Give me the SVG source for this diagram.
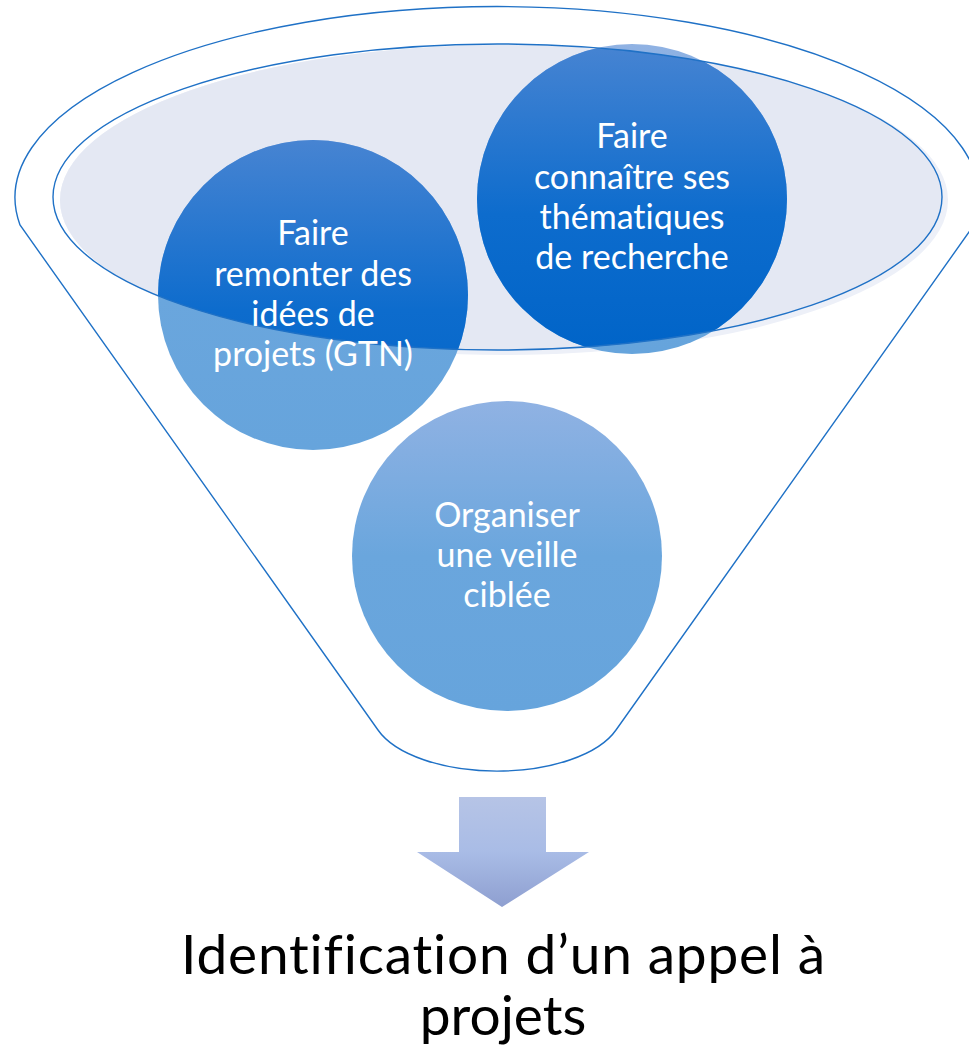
<svg xmlns="http://www.w3.org/2000/svg" width="969" height="1051" viewBox="0 0 969 1051">
<style>
.outline{fill:none;stroke:#1F71C6;stroke-width:1.4}
.ctext{font-family:Lato,"Open Sans","Liberation Sans",sans-serif;font-size:34px;fill:#FFFFFF;text-anchor:middle;font-variant-ligatures:none}
.mtext{font-family:Lato,"Open Sans","Liberation Sans",sans-serif;font-size:55px;fill:#000000;text-anchor:middle;font-variant-ligatures:none}
</style>
<defs>
<linearGradient id="gLight" x1="0" y1="0" x2="0" y2="1">
<stop offset="0" stop-color="#90B2E3"/>
<stop offset="0.5" stop-color="#6AA6DD"/>
<stop offset="1" stop-color="#66A4DC"/>
</linearGradient>
<linearGradient id="gDark" x1="0" y1="0" x2="0" y2="1">
<stop offset="0" stop-color="#4784D2"/>
<stop offset="0.55" stop-color="#0D6CCD"/>
<stop offset="1" stop-color="#0064C8"/>
</linearGradient>
<linearGradient id="gArrow" x1="0" y1="0" x2="0" y2="1">
<stop offset="0" stop-color="#B6C4E6"/>
<stop offset="0.5" stop-color="#A9BCE6"/>
<stop offset="1" stop-color="#8E9FD0"/>
</linearGradient>
<clipPath id="lidClip">
<ellipse cx="497.5" cy="197" rx="444.5" ry="153"/>
</clipPath>
</defs>

<g id="funnel">
<path class="outline" d="M20,225 A482,191 0 1 1 974,225 L616,730 A125.4,60 0 0 1 378,730 Z"/>
</g>

<g id="lid">
<ellipse cx="504" cy="200" rx="444" ry="155" fill="#EDF0F8"/>
<ellipse cx="504" cy="200" rx="444" ry="155" fill="#E4E8F3" clip-path="url(#lidClip)"/>
</g>

<g id="node-veille">
<circle cx="507" cy="556" r="155" fill="url(#gLight)"/>
<text class="ctext" x="507" y="527">Organiser</text>
<text class="ctext" x="507" y="567">une veille</text>
<text class="ctext" x="507" y="607">ciblée</text>
</g>

<g id="node-idees">
<circle cx="313" cy="295" r="155" fill="url(#gLight)"/>
<circle cx="313" cy="295" r="155" fill="url(#gDark)" clip-path="url(#lidClip)"/>
</g>

<g id="node-thematiques">
<circle cx="632" cy="199" r="155" fill="url(#gLight)"/>
<circle cx="632" cy="199" r="155" fill="url(#gDark)" clip-path="url(#lidClip)"/>
</g>

<g id="lid-outline">
<ellipse class="outline" cx="497.5" cy="197" rx="444.5" ry="153"/>
</g>

<g id="labels">
<text class="ctext" x="313" y="245">Faire</text>
<text class="ctext" x="313" y="286">remonter des</text>
<text class="ctext" x="313" y="326">idées de</text>
<text class="ctext" x="313" y="366">projets (GTN)</text>
<text class="ctext" x="632" y="148">Faire</text>
<text class="ctext" x="632" y="189">connaître ses</text>
<text class="ctext" x="632" y="229">thématiques</text>
<text class="ctext" x="632" y="269">de recherche</text>
</g>

<g id="connectors">
<polygon points="459,797 546,797 546,852 589,852 502,907 417,852 459,852" fill="url(#gArrow)"/>
</g>

<g id="node-result">
<text class="mtext" x="503" y="974" textLength="644" lengthAdjust="spacing">Identification d’un appel à</text>
<text class="mtext" x="503" y="1035">projets</text>
</g>
</svg>
